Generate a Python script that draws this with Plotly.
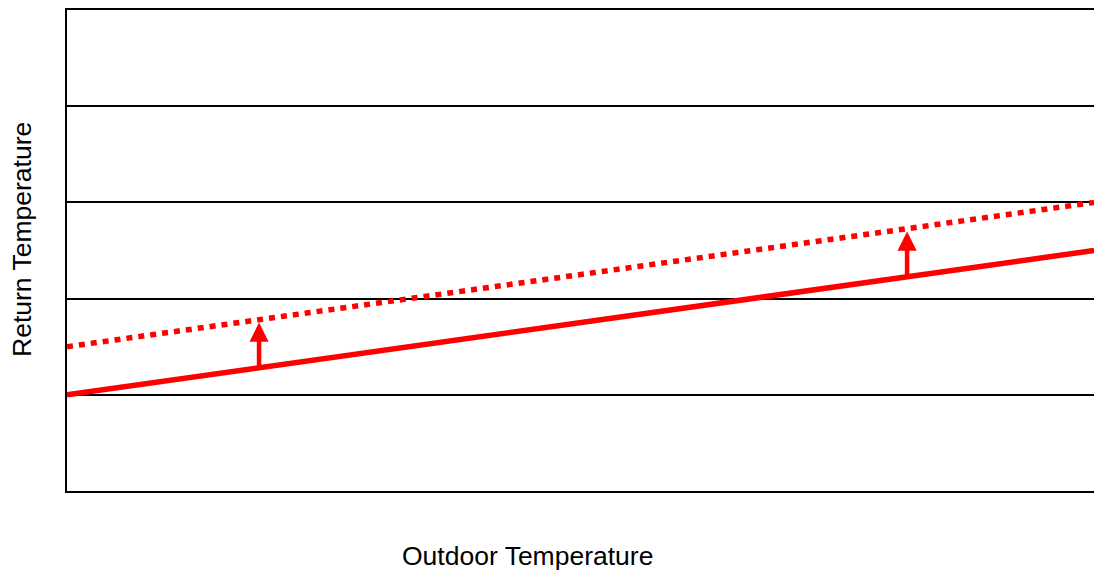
import numpy as np
import plotly.graph_objects as go

# outdoor temperature (normalised) and return temperature curves
outdoor = [0.0, 1.0]
return_current = [1.0, 2.5]
return_raised = [1.5, 3.0]
arrow_x = [0.187, 0.818]

y_ticks = [0, 1, 2, 3, 4, 5]

fig = go.Figure()

fig.add_trace(go.Scatter(
    x=outdoor, y=return_current, mode="lines",
    line=dict(color="#ff0000", width=5.5),
    hoverinfo="skip", showlegend=False))

fig.add_trace(go.Scatter(
    x=outdoor, y=return_raised, mode="lines",
    line=dict(color="#ff0000", width=5.5, dash="6px,6px"),
    hoverinfo="skip", showlegend=False))

# arrows from the solid line up to the dotted one
for ax_ in arrow_x:
    y0 = float(np.interp(ax_, outdoor, return_current))
    y1 = float(np.interp(ax_, outdoor, return_raised))
    fig.add_annotation(
        x=ax_, y=y1 - 0.03, ax=ax_, ay=y0,
        xref="x", yref="y", axref="x", ayref="y",
        text="", showarrow=True,
        arrowhead=2, arrowsize=0.85, arrowwidth=4.5, arrowcolor="#ff0000")

font = dict(family="Liberation Sans, Arial, sans-serif", size=26.5, color="black")

fig.add_annotation(text="Return Temperature", xref="paper", yref="paper",
                   x=-0.0438, y=0.522, textangle=-90, showarrow=False,
                   font=font, xanchor="center", yanchor="middle")
fig.add_annotation(text="Outdoor Temperature", xref="paper", yref="paper",
                   x=0.448, y=-0.135, showarrow=False,
                   font=font, xanchor="center", yanchor="middle")

fig.update_xaxes(range=[0, 1], showgrid=False, zeroline=False,
                 showticklabels=False, ticks="",
                 showline=True, linecolor="black", linewidth=2, mirror=True)
fig.update_yaxes(range=[y_ticks[0], y_ticks[-1]], tickvals=y_ticks,
                 showgrid=True, gridcolor="black", gridwidth=1.8,
                 zeroline=False, showticklabels=False, ticks="",
                 showline=True, linecolor="black", linewidth=2)

fig.update_layout(
    width=1094, height=570,
    margin=dict(l=67, r=0, t=10, b=79),
    plot_bgcolor="white", paper_bgcolor="white",
    hovermode=False,
)

# drop the default page margin so the figure fills the window exactly
fig.write_html(
    "out.html",
    config={"displayModeBar": False},
    post_script="document.body.style.margin='0';document.body.style.overflow='hidden';",
)
